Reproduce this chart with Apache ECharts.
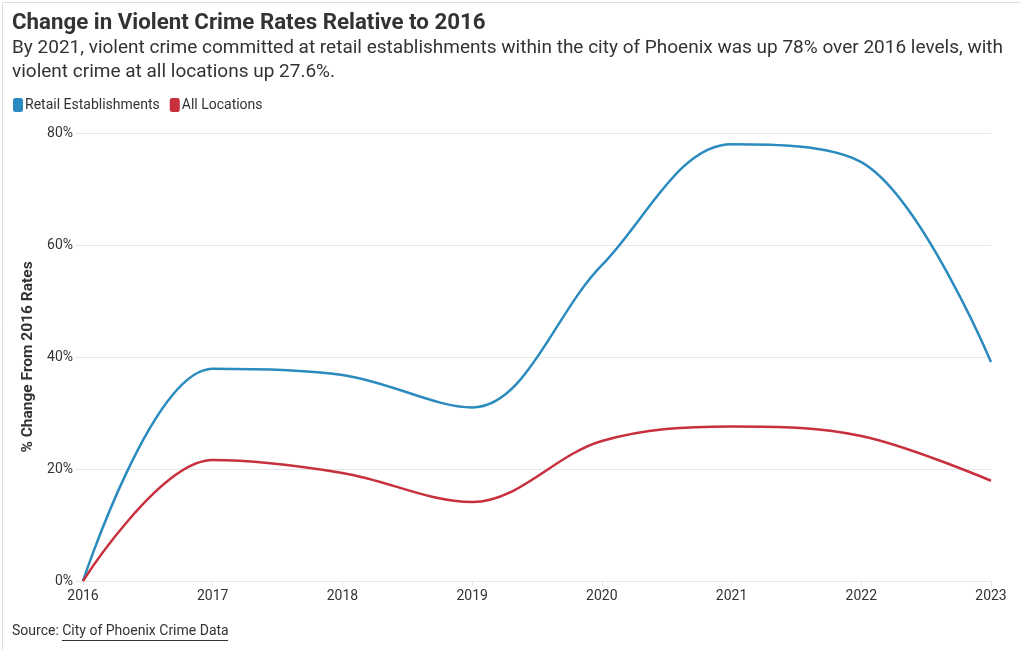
<!DOCTYPE html>
<html>
<head>
<meta charset="utf-8">
<script src="https://cdn.jsdelivr.net/npm/echarts@6/dist/echarts.min.js"></script>
<style>
html,body{margin:0;padding:0;background:#fff;}
#chart{width:1020px;height:650px;}
</style>
</head>
<body>
<div id="chart"></div>
<script>
const years = ['2016','2017','2018','2019','2020','2021','2022','2023'];
const retail = [0, 37.9, 36.8, 31.0, 56.4, 78.0, 74.8, 39.1];
const allLocations = [0, 21.6, 19.3, 14.1, 25.0, 27.6, 25.9, 17.9];
const yTicks = [0, 20, 40, 60, 80];

const chart = echarts.init(document.getElementById('chart'));
const font = 'Roboto, sans-serif';
chart.setOption({
  backgroundColor: '#fff',
  animation: false,
  textStyle: {fontFamily: font},
  title: {
    text: 'Change in Violent Crime Rates Relative to 2016',
    subtext: 'By 2021, violent crime committed at retail establishments within the city of Phoenix was up 78% over 2016 levels, with\nviolent crime at all locations up 27.6%.',
    left: 7, top: 7, itemGap: 2,
    textStyle: {fontFamily: font, fontSize: 22.3, fontWeight: 'bold', color: '#333'},
    subtextStyle: {fontFamily: font, fontSize: 19, color: '#333', lineHeight: 24}
  },
  legend: {
    left: 8, top: 93,
    icon: 'roundRect', itemWidth: 10, itemHeight: 14, itemGap: 10,
    textStyle: {fontFamily: font, fontSize: 14, color: '#333', padding: [0,0,0,-3]},
    data: ['Retail Establishments', 'All Locations']
  },
  grid: {left: 83, right: 29, top: 133, bottom: 69},
  xAxis: {
    type: 'category', data: years, boundaryGap: false,
    axisLine: {lineStyle: {color: '#e6e6e6'}},
    axisTick: {show: true, length: 5, lineStyle: {color: '#e6e6e6'}},
    axisLabel: {fontFamily: font, fontSize: 14, color: '#333', margin: 8}
  },
  yAxis: {
    type: 'value', min: 0, max: 80, interval: 20,
    name: '% Change From 2016 Rates', nameLocation: 'middle', nameGap: 46,
    nameTextStyle: {fontFamily: font, fontSize: 15.5, fontWeight: 'bold', color: '#333'},
    axisLine: {show: false},
    axisTick: {show: true, length: 7, lineStyle: {color: '#e6e6e6'}},
    splitLine: {lineStyle: {color: '#e6e6e6'}},
    axisLabel: {fontFamily: font, fontSize: 14, color: '#333', margin: 10,
      formatter: v => yTicks.includes(v) ? v + '%' : ''}
  },
  series: [
    {name: 'Retail Establishments', type: 'line', data: retail, smooth: 0.35,
     showSymbol: false, lineStyle: {width: 2.5, color: '#2b8bbf'}, itemStyle: {color: '#2b8bbf'}},
    {name: 'All Locations', type: 'line', data: allLocations, smooth: 0.35,
     showSymbol: false, lineStyle: {width: 2.5, color: '#c8303e'}, itemStyle: {color: '#c8303e'}}
  ],
  graphic: [
    {type: 'rect', left: 0, top: 0, shape: {width: 1019, height: 649},
     style: {fill: 'none', stroke: '#dcdcdc', lineWidth: 1}, silent: true},
    {type: 'text', left: 12, top: 624,
     style: {text: 'Source: City of Phoenix Crime Data', fontFamily: font, fontSize: 14, fill: '#333'}},
    {type: 'line', shape: {x1: 62, y1: 640.5, x2: 228, y2: 640.5},
     style: {stroke: '#333', lineWidth: 1}}
  ]
});
</script>
</body>
</html>
